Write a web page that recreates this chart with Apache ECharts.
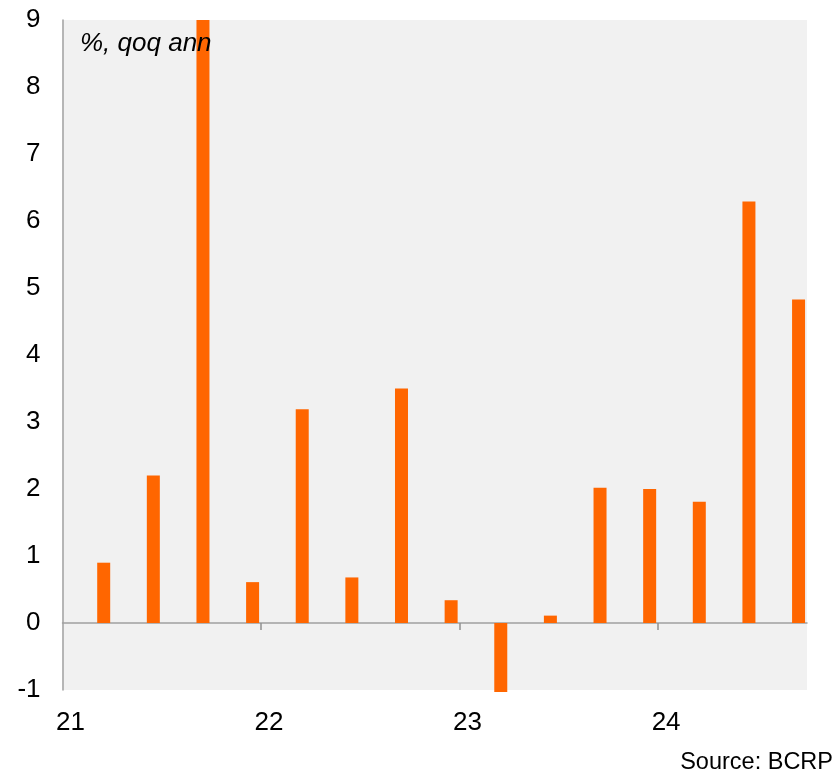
<!DOCTYPE html>
<html lang="en">
<head>
    <meta charset="UTF-8">
    <title>qoq_ann_bars</title>
    <script src="https://cdn.jsdelivr.net/npm/echarts@6/dist/echarts.min.js"></script>
    <style>
        html, body { margin: 0; padding: 0; background: #fff; }
    </style>
</head>

<body>
    <div id="mainChart" style="width: 835px; height: 773px;"></div>
    <script>
        // quarterly data, 2021Q1 .. 2024Q3
        let quarters = ['21Q1', '21Q2', '21Q3', '21Q4', '22Q1', '22Q2', '22Q3', '22Q4',
                        '23Q1', '23Q2', '23Q3', '23Q4', '24Q1', '24Q2', '24Q3']
        let growth = [0.90, 2.20, 9.00, 0.61, 3.19, 0.68, 3.50, 0.34,
                      -1.03, 0.11, 2.02, 2.00, 1.81, 6.29, 4.83]
        let yearLabels = ['21', '22', '23', '24']
        let yearTicks = [0, 4, 8, 12]

        let font = '"Liberation Sans", Arial, sans-serif'

        // bars sit towards the right end of each quarter slot
        let barData = []
        for (let i = 0; i < quarters.length; i++) {
            barData.push([i + 0.83, growth[i]])
        }

        let chartsData = {
            animation: false,
            grid: {
                left: 62.5,
                right: 28,
                top: 20,
                bottom: 83,
                show: true,
                backgroundColor: '#f1f1f1',
                borderWidth: 0,
                containLabel: false,
                outerBoundsMode: 'none'
            },
            xAxis: [
                {
                    type: 'value',
                    min: 0,
                    max: quarters.length,
                    position: 'bottom',
                    axisLine: { onZero: true, lineStyle: { color: '#a0a0a0', width: 1.5 } },
                    axisTick: { show: true, length: 7, customValues: [4, 8, 12], lineStyle: { color: '#909090', width: 1.5 } },
                    axisLabel: { show: false },
                    splitLine: { show: false }
                },
                {
                    type: 'value',
                    min: 0,
                    max: quarters.length,
                    position: 'bottom',
                    axisLine: { show: false, onZero: false },
                    axisTick: { show: false },
                    splitLine: { show: false },
                    axisLabel: {
                        customValues: yearTicks,
                        margin: 20,
                        color: '#000',
                        fontSize: 26,
                        fontFamily: font,
                        padding: [0, 0, 0, 16],
                        formatter: function (v) {
                            return yearLabels[yearTicks.indexOf(v)]
                        }
                    }
                }
            ],
            yAxis: {
                type: 'value',
                min: -1,
                max: 9,
                interval: 1,
                axisLine: { show: true, onZero: false, lineStyle: { color: '#a0a0a0', width: 1.5 } },
                axisTick: { show: false },
                splitLine: { show: false },
                axisLabel: {
                    margin: 22,
                    color: '#000',
                    fontSize: 26,
                    fontFamily: font
                }
            },
            series: [
                {
                    type: 'bar',
                    name: 'growth',
                    xAxisIndex: 0,
                    barWidth: 13,
                    clip: false,
                    itemStyle: { color: '#ff6600' },
                    data: barData
                }
            ],
            graphic: [
                {
                    type: 'text',
                    left: 80,
                    top: 31,
                    z: 100,
                    style: {
                        text: '%, qoq ann',
                        font: 'italic 26px ' + font,
                        fill: '#000'
                    }
                },
                {
                    type: 'text',
                    right: 2,
                    top: 751,
                    style: {
                        text: 'Source: BCRP',
                        font: '23.5px ' + font,
                        fill: '#000'
                    }
                }
            ]
        }

        let charts = echarts.init(document.querySelector('#mainChart'))
        charts.setOption(chartsData, true)
    </script>
</body>

</html>
